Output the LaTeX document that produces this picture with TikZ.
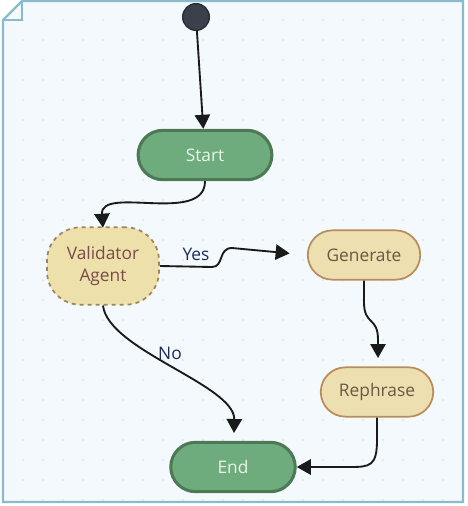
\documentclass[tikz,border=0pt]{standalone}
\usepackage{fontspec}
\setmainfont{Open Sans}
\usepackage{tikz}
\usetikzlibrary{
  arrows.meta,
  shapes.misc
}
\definecolor{paper}{HTML}{F3F9FC}
\definecolor{frame}{HTML}{8BBBCB}
\definecolor{dots}{HTML}{DFE5E8}
\definecolor{ink}{HTML}{1A1A1A}
\definecolor{startdot}{HTML}{3B404D}
\definecolor{startdotline}{HTML}{262A33}
\definecolor{green}{HTML}{6FAC7D}
\definecolor{greendark}{HTML}{4D7A55}
\definecolor{greentext}{HTML}{EAF4EA}
\definecolor{tan}{HTML}{EEDFB1}
\definecolor{tanline}{HTML}{B98C5C}
\definecolor{tantext}{HTML}{6B5843}
\definecolor{agentfill}{HTML}{EEE0AA}
\definecolor{agentline}{HTML}{9C865A}
\definecolor{agenttext}{HTML}{7B4B4B}
\definecolor{navy}{HTML}{1C2A5C}
\tikzset{
  flow/.style={
    -{Triangle[length=10.5pt,width=11.5pt]},
    line width=1.4pt,
    draw=ink
  },
  edgelabel/.style={
    text=navy,
    inner sep=1pt
  },
  terminal/.style={
    rounded rectangle,
    draw=greendark,
    fill=green,
    line width=2.3pt,
    text=greentext,
    minimum width=107pt,
    minimum height=37pt
  },
  task/.style={
    rounded rectangle,
    draw=tanline,
    fill=tan,
    line width=1.3pt,
    text=tantext,
    minimum width=91pt,
    minimum height=37pt
  },
  agent/.style={
    draw=agentline,
    fill=agentfill,
    line width=1.3pt,
    dashed,
    rounded corners=25pt,
    text=agenttext,
    align=center,
    minimum width=84pt,
    minimum height=58pt
  },
  initial/.style={
    circle,
    draw=startdotline,
    fill=startdot,
    line width=1pt,
    minimum size=20pt,
    inner sep=0pt
  }
}

\begin{document}
\begin{tikzpicture}[x=0.75pt, y=-0.75pt, font=\fontsize{13}{16}\selectfont]
  \useasboundingbox (0,0) rectangle (467,506);
  % sheet
  \fill[paper] (22,1) -- (463,1) -- (463,502) -- (3,502) -- (3,20) -- cycle;
  \foreach \x in {23,43,...,443}
    \foreach \y in {20,40,...,500}
      \fill[dots] (\x,\y) circle (0.8pt);
  \draw[frame, line width=1.6pt] (22,1) -- (463,1) -- (463,502) -- (3,502) -- (3,20) -- cycle;
  \draw[frame, line width=1.6pt] (3,20) -- (22,20) -- (22,1);

  \node[initial] (init) at (196,17) {};
  \node[terminal] (start) at (205,155) {Start};
  \node[agent] (validator) at (103,266) {Validator\\Agent};
  \node[task] (generate) at (364,255) {Generate};
  \node[task] (rephrase) at (377,392) {Rephrase};
  \node[terminal, minimum width=100pt] (end) at (233,467) {End};

  \draw[flow] (init) -- (start);
  \draw[flow, shorten >=1pt] (start.south) .. controls (205,225) and (100,185) .. (103,229);
  \draw[flow, shorten >=13pt] (validator.east) -- (212,267) .. controls (224,267) and (218,248) .. (232,248) -- (generate.west);
  \node[edgelabel] (yes) at (196,254) {Yes};
  \draw[flow] (generate.south) -- (364,302) .. controls (364,326) and (378,316) .. (378,340) -- (378,358);
  \draw[flow] (rephrase.south) -- (377,440) .. controls (377,466) and (370,467) .. (350,467) -- (end.east);
  \draw[flow] (validator.south) .. controls (108,350) and (235,385) .. (234,433);
  \node[edgelabel] (no) at (170,353) {No};
\end{tikzpicture}
\end{document}
